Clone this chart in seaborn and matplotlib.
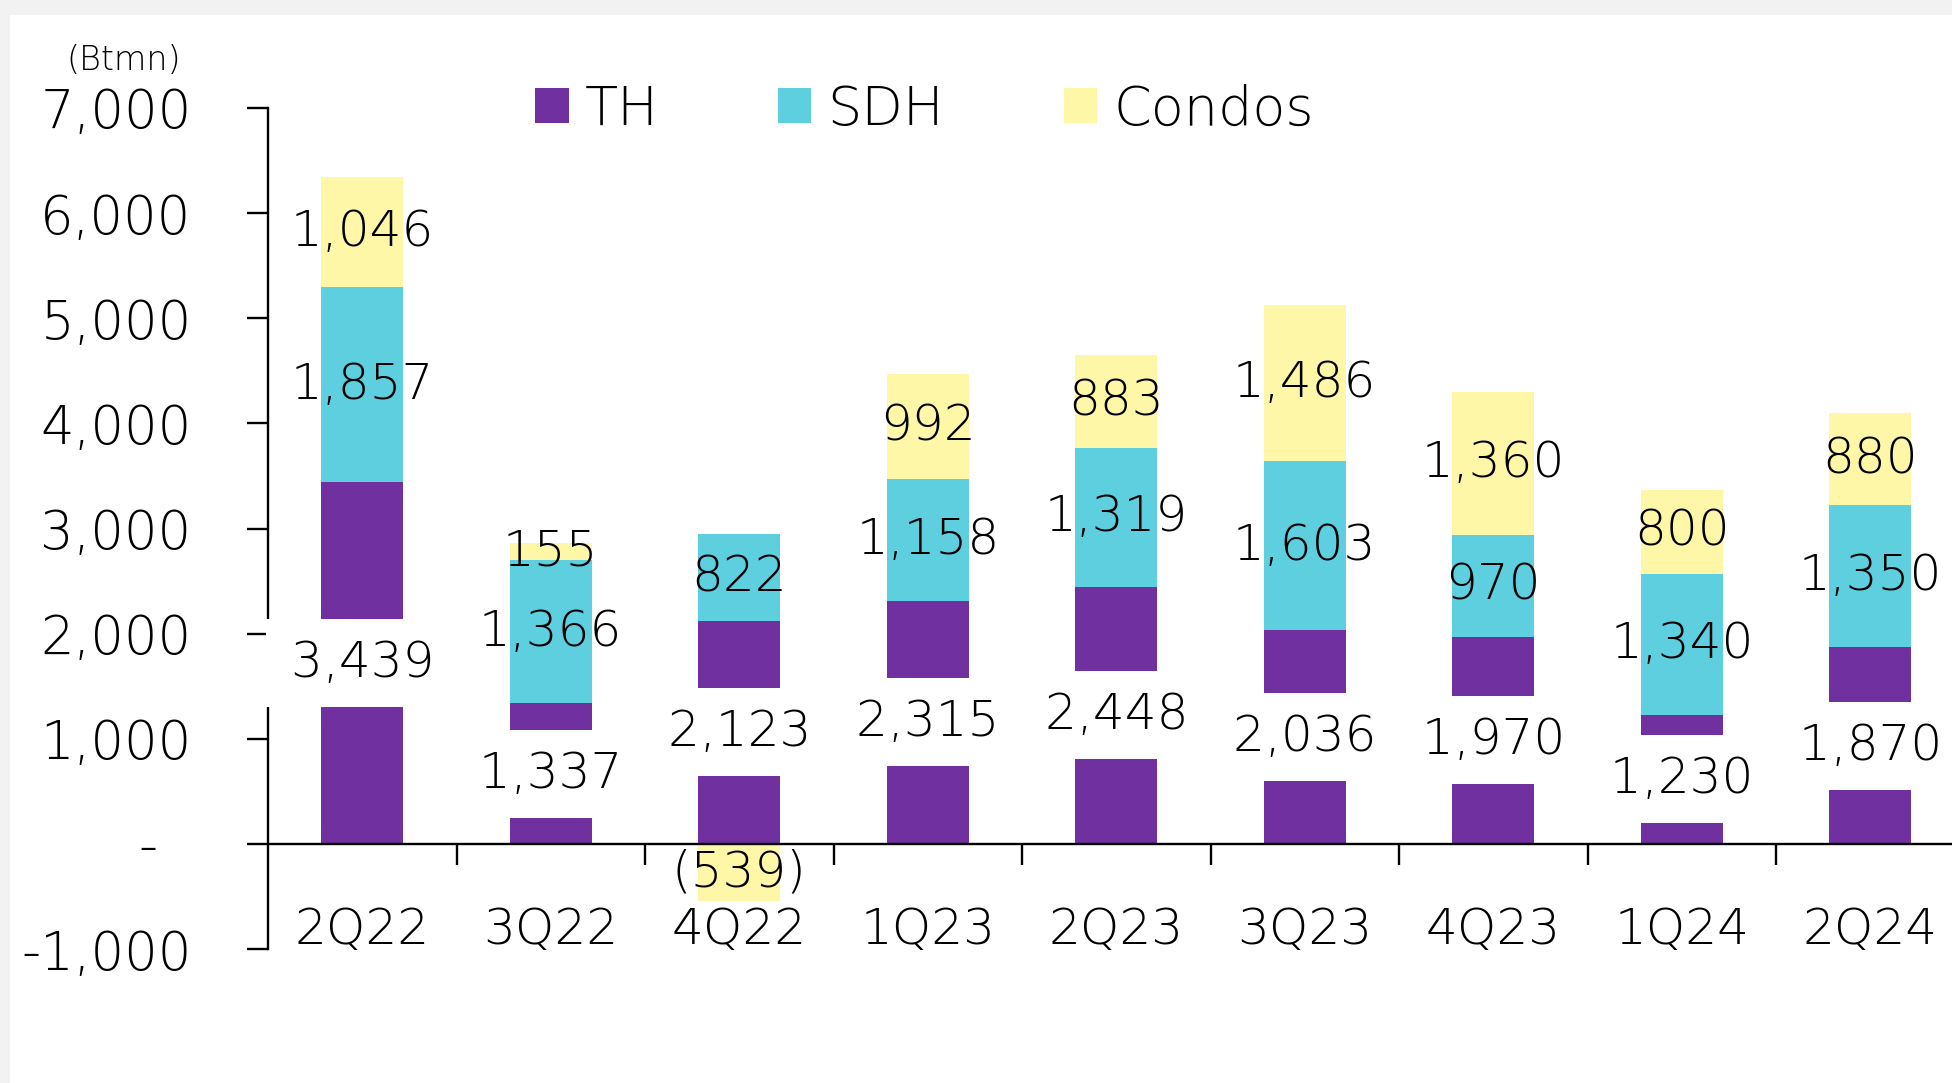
import numpy as np
import pandas as pd
import matplotlib
matplotlib.use("Agg")
import matplotlib.pyplot as plt
import seaborn as sns
from matplotlib.patches import Patch, Rectangle

# ---- data ----
quarters = ["2Q22", "3Q22", "4Q22", "1Q23", "2Q23", "3Q23", "4Q23", "1Q24", "2Q24"]
th = [3439, 1337, 2123, 2315, 2448, 2036, 1970, 1230, 1870]
sdh = [1857, 1366, 822, 1158, 1319, 1603, 970, 1340, 1350]
condos = [1046, 155, -539, 992, 883, 1486, 1360, 800, 880]
series_names = ["TH", "SDH", "Condos"]
y_ticks = [-1000, 0, 1000, 2000, 3000, 4000, 5000, 6000, 7000]
y_tick_labels = ["-1,000", "-  ", "1,000", "2,000", "3,000", "4,000", "5,000", "6,000", "7,000"]
unit_label = "(Btmn)"

colors = {"TH": "#7030A0", "SDH": "#5DCFDF", "Condos": "#FDF7A7"}

sns.set_theme(style="white")
plt.rcParams["font.family"] = ["DejaVu Sans"]
plt.rcParams["font.weight"] = 200
for k in ["text.color", "axes.labelcolor", "xtick.color", "ytick.color", "axes.edgecolor"]:
    plt.rcParams[k] = "black"

W, H = 1952, 1083
fig = plt.figure(figsize=(W / 100, H / 100), dpi=100, facecolor="#F2F2F2")
fig.patches.append(Rectangle((10 / W, 0), 1, 1 - 15 / H, transform=fig.transFigure,
                             facecolor="white", edgecolor="none", zorder=-10))

ax = fig.add_axes([268 / W, (H - 949) / H, 1 - 268 / W, (949 - 108) / H])
ax.set_facecolor("none")

df = pd.DataFrame({"quarter": quarters, "TH": th, "SDH": sdh, "Condos": condos})
th_a = np.array(th, float)
sdh_a = np.array(sdh, float)
con_a = np.array(condos, float)
bottoms = {
    "TH": np.zeros(len(th_a)),
    "SDH": th_a,
    "Condos": np.where(con_a >= 0, th_a + sdh_a, 0.0),
}
values = {"TH": th_a, "SDH": sdh_a, "Condos": con_a}

bar_w = 0.436
for name in series_names:
    sns.barplot(data=df, x="quarter", y=name, bottom=bottoms[name], color=colors[name],
                saturation=1, width=bar_w, edgecolor="none", linewidth=0, ax=ax,
                errorbar=None, zorder=1)


def fmt(v):
    return f"({abs(v):,.0f})" if v < 0 else f"{v:,.0f}"


label_fs = 36
for name in series_names:
    for i, (b, v) in enumerate(zip(bottoms[name], values[name])):
        txt = fmt(v)
        kw = {}
        if name == "TH":
            txt = "\u200a" + txt + "\u200a"
            kw["bbox"] = dict(boxstyle="square,pad=0.4", facecolor="white", edgecolor="none")
        ax.text(i, b + v / 2, txt, ha="center", va="center", fontsize=label_fs,
                color="black", zorder=4, **kw)

ax.set_xlim(-0.5, -0.5 + (W - 268) / 188.5)
ax.set_ylim(-1000, 7000)
ax.set_xlabel("")
ax.set_ylabel("")

for s in ["top", "right"]:
    ax.spines[s].set_visible(False)
ax.spines["left"].set_color("black")
ax.spines["left"].set_linewidth(1.7)
ax.spines["bottom"].set_position(("data", 0))
ax.spines["bottom"].set_color("black")
ax.spines["bottom"].set_linewidth(1.7)

ax.set_yticks(y_ticks)
ax.set_yticklabels(y_tick_labels)
ax.tick_params(axis="y", which="major", direction="out", length=15, width=1.7,
               color="black", labelcolor="black", pad=40, labelsize=38, left=True)

ax.set_xticks(range(len(quarters)))
ax.set_xticklabels(quarters)
ax.set_xticks(np.arange(len(quarters) - 1) + 0.5, minor=True)
ax.tick_params(axis="x", which="major", length=0, pad=45, labelsize=36, bottom=True,
               labelcolor="black")
ax.tick_params(axis="x", which="minor", direction="out", length=15, width=1.7,
               color="black", bottom=True)
ax.grid(False)

handles = [Patch(facecolor=colors[n], edgecolor="none", label=n) for n in series_names]
fig.legend(handles=handles, loc="center left", bbox_to_anchor=(535 / W, 1 - 110 / H),
           bbox_transform=fig.transFigure, ncol=3, frameon=False, fontsize=39,
           handlelength=0.62, handleheight=0.62, handletextpad=0.3, columnspacing=2.2,
           borderpad=0, borderaxespad=0, labelcolor="black")

fig.text(124 / W, 1 - 61 / H, unit_label, ha="center", va="center", fontsize=24, color="black")

fig.savefig("out.png", dpi=100, facecolor=fig.get_facecolor())
